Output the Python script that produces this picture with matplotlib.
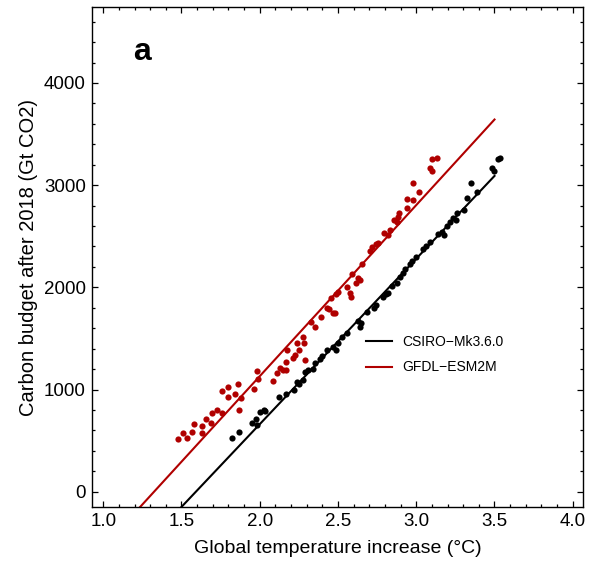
import numpy as np
import matplotlib
matplotlib.use("Agg")
import matplotlib.pyplot as plt
from matplotlib.ticker import MultipleLocator

plt.rcParams["font.family"] = ["Liberation Sans", "DejaVu Sans"]

# GFDL-ESM2M scatter (warming in degC, budget in Gt CO2)
gfdl_x = [1.479, 1.507, 1.537, 1.565, 1.581, 1.629, 1.631, 1.656, 1.686, 1.693,
          1.730, 1.757, 1.758, 1.797, 1.795, 1.842, 1.859, 1.869, 1.880, 1.963,
          1.980, 1.988, 2.084, 2.110, 2.132, 2.151, 2.167, 2.167, 2.176, 2.214,
          2.223, 2.235, 2.252, 2.278, 2.282, 2.289, 2.326, 2.351, 2.390, 2.429,
          2.444, 2.468, 2.482, 2.453, 2.489, 2.500, 2.555, 2.576, 2.583, 2.587,
          2.615, 2.629, 2.643, 2.651, 2.704, 2.717, 2.743, 2.757, 2.794, 2.821,
          2.832, 2.858, 2.877, 2.891, 2.883, 2.939, 2.939, 2.977, 3.017, 2.977,
          3.088, 3.098, 3.098, 3.130]
gfdl_y = [516, 571, 530, 584, 658, 643, 571, 711, 669, 770,
          799, 770, 985, 1027, 927, 956, 1054, 799, 914, 1002,
          1184, 1100, 1086, 1161, 1207, 1191, 1186, 1269, 1387, 1305,
          1335, 1458, 1387, 1511, 1452, 1286, 1663, 1615, 1712, 1793,
          1785, 1746, 1746, 1892, 1934, 1957, 2006, 1941, 1908, 2130,
          2045, 2096, 2076, 2228, 2355, 2397, 2421, 2429, 2534, 2512,
          2561, 2654, 2644, 2724, 2693, 2779, 2869, 2854, 2930, 3018,
          3167, 3138, 3253, 3262]

# CSIRO-Mk3.6.0 scatter
csiro_x = [1.820, 1.867, 1.948, 1.973, 1.982, 1.999, 2.024, 2.033, 2.125, 2.167,
           2.219, 2.236, 2.252, 2.276, 2.289, 2.310, 2.338, 2.353, 2.385, 2.397,
           2.427, 2.470, 2.489, 2.502, 2.528, 2.560, 2.629, 2.647, 2.640, 2.683,
           2.727, 2.743, 2.790, 2.806, 2.822, 2.845, 2.875, 2.896, 2.917, 2.931,
           2.960, 2.973, 3.000, 3.045, 3.065, 3.088, 3.142, 3.167, 3.180, 3.194,
           3.215, 3.236, 3.254, 3.260, 3.302, 3.322, 3.348, 3.388, 3.484, 3.500,
           3.524, 3.538]
csiro_y = [523, 584, 677, 711, 653, 775, 797, 785, 922, 959,
           995, 1078, 1049, 1093, 1171, 1191, 1196, 1262, 1298, 1328,
           1387, 1413, 1387, 1452, 1511, 1551, 1670, 1646, 1616, 1763,
           1798, 1827, 1910, 1930, 1949, 2013, 2039, 2101, 2140, 2184,
           2233, 2260, 2296, 2372, 2404, 2443, 2522, 2546, 2512, 2600,
           2644, 2678, 2663, 2724, 2756, 2871, 3018, 2928, 3167, 3138,
           3253, 3265]

# linear fits (end points)
gfdl_fit_x = [1.2, 3.5]
gfdl_fit_y = [-209, 3642]
csiro_fit_x = [1.45, 3.5]
csiro_fit_y = [-230, 3090]

RED = "#b00000"

fig = plt.figure(figsize=(5.9, 5.72), dpi=100)
ax = fig.add_axes([0.1551, 0.1136, 0.8337, 0.8736])

ax.plot(csiro_fit_x, csiro_fit_y, color="black", lw=1.5, label="CSIRO\u2212Mk3.6.0")
ax.plot(gfdl_fit_x, gfdl_fit_y, color=RED, lw=1.5, label="GFDL\u2212ESM2M")
ax.scatter(csiro_x, csiro_y, s=20, color="black", lw=0, zorder=3)
ax.scatter(gfdl_x, gfdl_y, s=20, color=RED, lw=0, zorder=3)

ax.set_xlim(0.925, 4.068)
ax.set_ylim(-150, 4740)
ax.xaxis.set_major_locator(MultipleLocator(0.5))
ax.xaxis.set_minor_locator(MultipleLocator(0.1))
ax.yaxis.set_major_locator(MultipleLocator(1000))
ax.yaxis.set_minor_locator(MultipleLocator(200))
ax.xaxis.set_major_formatter(matplotlib.ticker.FormatStrFormatter("%.1f"))
ax.tick_params(which="both", direction="in", top=True, right=True, labelsize=13.5, width=0.9)
ax.tick_params(which="major", length=4)
ax.tick_params(which="minor", length=2.2)
ax.tick_params(axis="x", pad=4)
ax.tick_params(axis="y", pad=4)
for s in ax.spines.values():
    s.set_linewidth(1.0)

ax.set_xlabel("Global temperature increase (\u00b0C)", fontsize=14)
ax.set_ylabel("Carbon budget after 2018 (Gt CO2)", fontsize=14.5)
ax.xaxis.set_label_coords(0.5, -0.066)
ax.yaxis.set_label_coords(-0.108, 0.5)

ax.text(0.103, 0.91, "a", transform=ax.transAxes, fontsize=23, fontweight="bold",
        ha="center", va="center")

ax.legend(frameon=False, loc="upper left", bbox_to_anchor=(0.558, 0.345), fontsize=10,
          handlelength=1.85, handletextpad=0.75, labelspacing=0.85, borderpad=0, borderaxespad=0)

fig.savefig("out.png", dpi=100)
